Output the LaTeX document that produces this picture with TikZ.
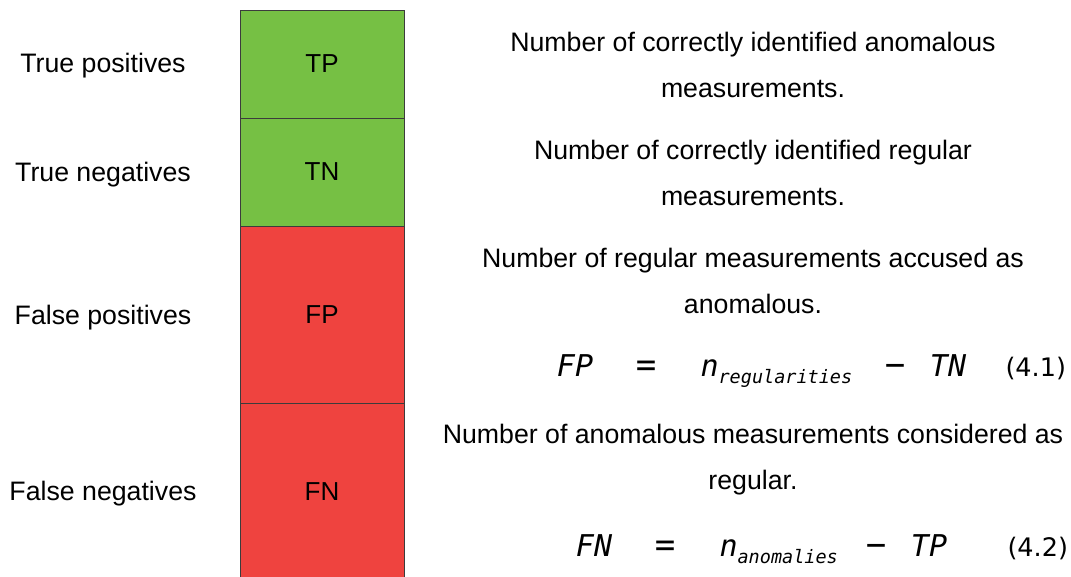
\documentclass[tikz,border=0pt]{standalone}
\usepackage{fontspec}
\setmainfont{Liberation Sans}
\newfontfamily\eqfont{DejaVu Sans Mono}[UprightFont=*-Oblique]
\newfontfamily\opfont{DejaVu Sans Mono}
\newfontfamily\numfont{DejaVu Sans}
\usetikzlibrary{positioning}

\definecolor{okgreen}{RGB}{118,192,68}
\definecolor{badred}{RGB}{239,67,63}
\definecolor{edge}{RGB}{60,60,60}

\tikzset{
	cell/.style={draw=edge, line width=0.8pt, minimum width=164pt, inner sep=0pt, font=\fontsize{26}{30}\selectfont},
	tag/.style={font=\fontsize{26.7}{30}\selectfont},
	desc/.style={align=center, font=\fontsize{26.7}{46}\selectfont},
	eq/.style={anchor=base, font=\fontsize{30}{34}\eqfont},
	op/.style={anchor=base, font=\fontsize{34}{38}\opfont},
	eqnum/.style={anchor=base west, font=\fontsize{25.5}{30}\numfont}
}

\begin{document}
\begin{tikzpicture}[x=1pt,y=-1pt]
	\useasboundingbox (0,0) rectangle (1071,576);

	% Tabla de casillas
	\node[cell, fill=okgreen, minimum height=108pt] (tp) at (322,64) {TP};
	\node[cell, fill=okgreen, minimum height=108pt] (tn) at (322,172) {TN};
	\node[cell, fill=badred, minimum height=177pt] (fp) at (322,314.5) {FP};
	\node[cell, fill=badred, minimum height=178pt] (fn) at (322,492) {FN};

	% Nombres a la izquierda
	\node[tag] (tplabel) at (103,66) {True positives};
	\node[tag] (tnlabel) at (103,175) {True negatives};
	\node[tag] (fplabel) at (103,318) {False positives};
	\node[tag] (fnlabel) at (103,494) {False negatives};

	% Descripciones
	\node[desc] (tpdesc) at (753,65) {Number of correctly identified anomalous\\measurements.};
	\node[desc] (tndesc) at (753,173) {Number of correctly identified regular\\measurements.};
	\node[desc] (fpdesc) at (753,281) {Number of regular measurements accused as\\anomalous.};
	\node[desc] (fndesc) at (753,460) {Number of anomalous measurements considered as\\regular.};

	% Ecuacion 4.1
	\node[eq] (fpa) at (575,376) {FP};
	\node[op] (fpb) at (646,376) {=};
	\node[eq, anchor=base west] (fpc) at (697,376) {n\raisebox{-7pt}{\fontsize{18.5}{20}\selectfont regularities}};
	\node[op] (fpd) at (895,376) {−};
	\node[eq] (fpe) at (948,376) {TN};
	\node[eqnum] (fpnum) at (1002,376) {(4.1)};

	% Ecuacion 4.2
	\node[eq] (fna) at (594,556) {FN};
	\node[op] (fnb) at (665,556) {=};
	\node[eq, anchor=base west] (fnc) at (716,556) {n\raisebox{-7pt}{\fontsize{18.5}{20}\selectfont anomalies}};
	\node[op] (fnd) at (876,556) {−};
	\node[eq] (fne) at (929,556) {TP};
	\node[eqnum] (fnnum) at (1004,556) {(4.2)};
\end{tikzpicture}
\end{document}
